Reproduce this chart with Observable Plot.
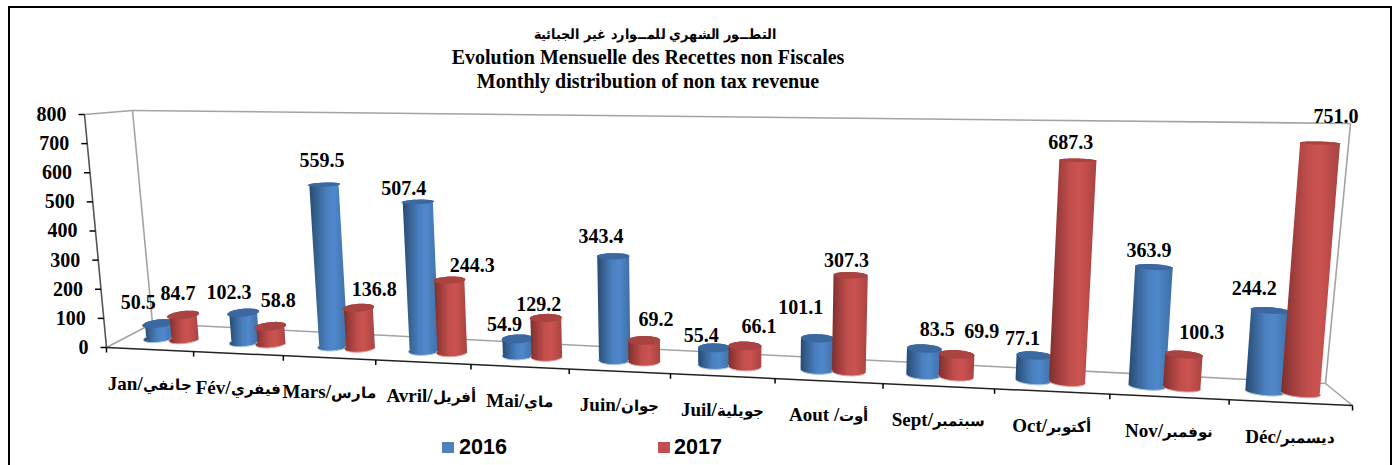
<!DOCTYPE html>
<html>
<head>
<meta charset="utf-8">
<script src="https://cdn.jsdelivr.net/npm/d3@7"></script>
<script src="https://cdn.jsdelivr.net/npm/@observablehq/plot@0.6"></script>
<style>
@font-face { font-family: "ArFallback"; src: local("DejaVu Sans Bold"), local("DejaVuSans-Bold"); font-weight: bold; size-adjust: 78%; unicode-range: U+0600-06FF; }
html, body { margin: 0; padding: 0; background: #fff; overflow: hidden; }
#page { position: relative; width: 1395px; height: 465px; overflow: hidden; }
#frame { position: absolute; left: 8px; top: 6px; width: 1384px; height: 480px; border: 2px solid #000; box-sizing: border-box; pointer-events: none; }
#title { position: absolute; left: 0; top: 21px; width: 1296px; text-align: center; font: bold 20px/24px "ArFallback", "Liberation Serif", serif; color: #000; }
#title .ar { font-size: 18px; transform: translateX(7px) scaleX(0.92); }
#chart { position: absolute; left: 0; top: 100px; }
#legend { position: absolute; left: 0; top: 434px; width: 1395px; height: 26px; font: bold 21.6px/26px "Liberation Sans", sans-serif; color: #000; }
#legend .sw { position: absolute; top: 8px; width: 12px; height: 11px; }
#legend .lb { position: absolute; top: 0; }
</style>
</head>
<body>
<div id="page">
  <div id="frame"></div>
  <div id="title">
    <div class="ar" dir="rtl">التطــور الشهري  للمــوارد غير الجبائية</div>
    <div>Evolution Mensuelle des Recettes non Fiscales</div>
    <div>Monthly distribution of non tax revenue</div>
  </div>
  <div id="chart"></div>
  <div id="legend"></div>
</div>
<script>
// ---- data ----
const monthsFr = ["Jan/", "Fév/", "Mars/", "Avril/", "Mai/", "Juin/", "Juil/", "Aout /", "Sept/", "Oct/", "Nov/", "Déc/"];
const monthsAr = ["جانفي", "فيفري", "مارس", "أفريل", "ماي", "جوان", "جويلية", "أوت", "سبتمبر", "أكتوبر", "نوفمبر", "ديسمبر"];
const values2016 = [50.5, 102.3, 559.5, 507.4, 54.9, 343.4, 55.4, 101.1, 83.5, 77.1, 363.9, 244.2];
const values2017 = [84.7, 58.8, 136.8, 244.3, 129.2, 69.2, 66.1, 307.3, 69.9, 687.3, 100.3, 751.0];
const yTicks = [0, 100, 200, 300, 400, 500, 600, 700, 800];

// ---- layout of the value labels: nudges from the top of each bar ----
const nudge2016 = [[-20,-21],[-14,-20],[-2,-24],[-14,-13],[-13,-14],[-12,-20],[-13,-12],[-17,-31],[13,-19],[-12,-17],[-5,-17],[-16,-22]];
const nudge2017 = [[-5,-22],[8,-26],[16,-18],[23,-14],[-7,-13],[12,-21],[14,-19],[-4,-15],[25,-23],[-7,-18],[18,-22],[16,-26]];

// ---- perspective camera of the 3-D box ----
const corners = {
  floor: {fl: [106, 347], fr: [1352, 405], bl: [152, 323], br: [1325, 383]},
  top:   {fl: [84, 114],  fr: [1372, 130], bl: [132, 110], br: [1350, 123]}
};
const mix = (a, b, k) => [a[0] + (b[0] - a[0]) * k, a[1] + (b[1] - a[1]) * k];
const slotX = t => (84.34 * t + 106) / (1 - 0.01442 * t);
const sOf = t => (slotX(t) - 106) / 1246;
function project(t, d, v) {
  const s = sOf(t);
  const q = c => mix(mix(c.fl, c.fr, s), mix(c.bl, c.br, s), d);
  return mix(q(corners.floor), q(corners.top), v / 800);
}
const halfT = 0.16, halfD = 0.2, depth = 0.47, shift = 0.15, slotCentre = 0.525;
const arc = 24;

function cylinder(values, off) {
  const body = [], cap = [], rim = [];
  values.forEach((v, i) => {
    const tc = i + slotCentre + off;
    const pt = (a, val) => project(tc + halfT * Math.cos(a), depth + halfD * Math.sin(a), val);
    for (let k = 0; k <= arc; k++) {
      const p = pt(Math.PI + Math.PI * k / arc, 0);
      body.push({id: i, x: p[0], y: p[1]});
      rim.push({id: i, x: p[0], y: p[1]});
    }
    for (let k = 0; k <= arc; k++) {
      const p = pt(Math.PI * k / arc, v);
      body.push({id: i, x: p[0], y: p[1]});
    }
    for (let k = 0; k <= arc * 2; k++) {
      const p = pt(Math.PI * k / arc, v);
      cap.push({id: i, x: p[0], y: p[1]});
    }
  });
  return {body, cap, rim};
}
const s16 = cylinder(values2016, -shift);
const s17 = cylinder(values2017, shift);

const labelRows = (values, off, nudges) => values.map((v, i) => {
  const p = project(i + slotCentre + off, depth, v);
  return {x: p[0] + nudges[i][0], y: p[1] + nudges[i][1], text: v.toFixed(1)};
});

const wallPt = (t, d, v) => { const p = project(t, d, v); return {x: p[0], y: p[1]}; };
const wallSegs = [
  [[0, 1, 800], [12, 1, 800]],
  [[0, 1, 0], [12, 1, 0]],
  [[0, 1, 0], [0, 1, 800]],
  [[12, 1, 0], [12, 1, 800]],
  [[0, 0, 800], [0, 1, 800]],
  [[0, 0, 0], [0, 1, 0]],
  [[12, 0, 0], [12, 1, 0]]
].map(([a, b]) => { const p = wallPt(...a), q = wallPt(...b); return {x1: p.x, y1: p.y, x2: q.x, y2: q.y}; });

const slots = d3.range(0, 13);
const serif = '"ArFallback", "Liberation Serif", serif';

// gradients
const defs = () => {
  const ns = "http://www.w3.org/2000/svg";
  const g = document.createElementNS(ns, "defs");
  const grad = (id, stops) => {
    const lg = document.createElementNS(ns, "linearGradient");
    lg.setAttribute("id", id);
    stops.forEach(([o, c]) => {
      const st = document.createElementNS(ns, "stop");
      st.setAttribute("offset", o); st.setAttribute("stop-color", c);
      lg.appendChild(st);
    });
    g.appendChild(lg);
  };
  grad("gBlue", [[0, "#274a75"], [0.18, "#36608f"], [0.45, "#4a80c0"], [0.65, "#4f88cb"], [1, "#3f6ea6"]]);
  grad("gRed",  [[0, "#7c2f2d"], [0.18, "#9c3c3a"], [0.45, "#c24f4d"], [0.65, "#cb5351"], [1, "#a94341"]]);
  return g;
};

const chart = Plot.plot({
  width: 1395, height: 340, margin: 0,
  x: {domain: [0, 1395], range: [0, 1395], axis: null},
  y: {domain: [440, 100], range: [340, 0], axis: null},
  style: {background: "transparent", overflow: "visible"},
  marks: [
    defs,
    Plot.link(wallSegs, {x1: "x1", y1: "y1", x2: "x2", y2: "y2", stroke: "#a3a3a3", strokeWidth: 1.6}),
    // left axis
    Plot.link([0], {x1: () => wallPt(0, 0, 0).x, y1: () => wallPt(0, 0, 0).y, x2: () => wallPt(0, 0, 800).x, y2: () => wallPt(0, 0, 800).y, stroke: "#555", strokeWidth: 1.6}),
    Plot.link(yTicks, {x1: v => wallPt(0, 0, v).x - 6, x2: v => wallPt(0, 0, v).x, y1: v => wallPt(0, 0, v).y, y2: v => wallPt(0, 0, v).y, stroke: "#000", strokeWidth: 1.5}),
    Plot.text(yTicks, {x: v => wallPt(0, 0, v).x - 18, y: v => wallPt(0, 0, v).y, text: v => String(v), textAnchor: "end", fontFamily: serif, fontWeight: "bold", fontSize: 20, fill: "#000"}),
    // front floor edge with ticks
    Plot.link([0], {x1: () => wallPt(0, 0, 0).x, y1: () => wallPt(0, 0, 0).y, x2: () => wallPt(12, 0, 0).x, y2: () => wallPt(12, 0, 0).y, stroke: "#222", strokeWidth: 1.5}),
    Plot.link(slots, {x1: t => wallPt(t, 0, 0).x, x2: t => wallPt(t, 0, 0).x, y1: t => wallPt(t, 0, 0).y, y2: t => wallPt(t, 0, 0).y + 5, stroke: "#000", strokeWidth: 1.5}),
    // category labels
    Plot.text(monthsFr, {
      x: (d, i) => wallPt(i + 0.5, 0, 0).x + (i === 3 ? 8 : 0),
      y: (d, i) => wallPt(i + 0.5, 0, 0).y + 34,
      text: (d, i) => d + monthsAr[i],
      fontFamily: serif, fontWeight: "bold", fontSize: 19, fill: "#000"
    }),
    // cylinders 2016
    Plot.line(s16.body, {x: "x", y: "y", z: "id", stroke: "none", fill: "url(#gBlue)"}),
    Plot.line(s16.rim, {x: "x", y: "y", z: "id", stroke: "#a8c6ea", strokeWidth: 1}),
    Plot.line(s16.cap, {x: "x", y: "y", z: "id", stroke: "none", fill: "#3b689e"}),
    // cylinders 2017
    Plot.line(s17.body, {x: "x", y: "y", z: "id", stroke: "none", fill: "url(#gRed)"}),
    Plot.line(s17.rim, {x: "x", y: "y", z: "id", stroke: "#e6a3a1", strokeWidth: 1}),
    Plot.line(s17.cap, {x: "x", y: "y", z: "id", stroke: "none", fill: "#a94341"}),
    // value labels
    Plot.text(labelRows(values2016, -shift, nudge2016), {x: "x", y: "y", text: "text", fontFamily: serif, fontWeight: "bold", fontSize: 20, fill: "#000"}),
    Plot.text(labelRows(values2017, shift, nudge2017), {x: "x", y: "y", text: "text", fontFamily: serif, fontWeight: "bold", fontSize: 20, fill: "#000"})
  ]
});
document.getElementById("chart").appendChild(chart);

// legend
const legend = d3.select("#legend");
[["2016", "#4f81bd", 442, 459], ["2017", "#c0504d", 658, 674]].forEach(([t, c, a, b]) => {
  legend.append("span").attr("class", "sw").style("left", a + "px").style("background", c);
  legend.append("span").attr("class", "lb").style("left", b + "px").text(t);
});
</script>
</body>
</html>
